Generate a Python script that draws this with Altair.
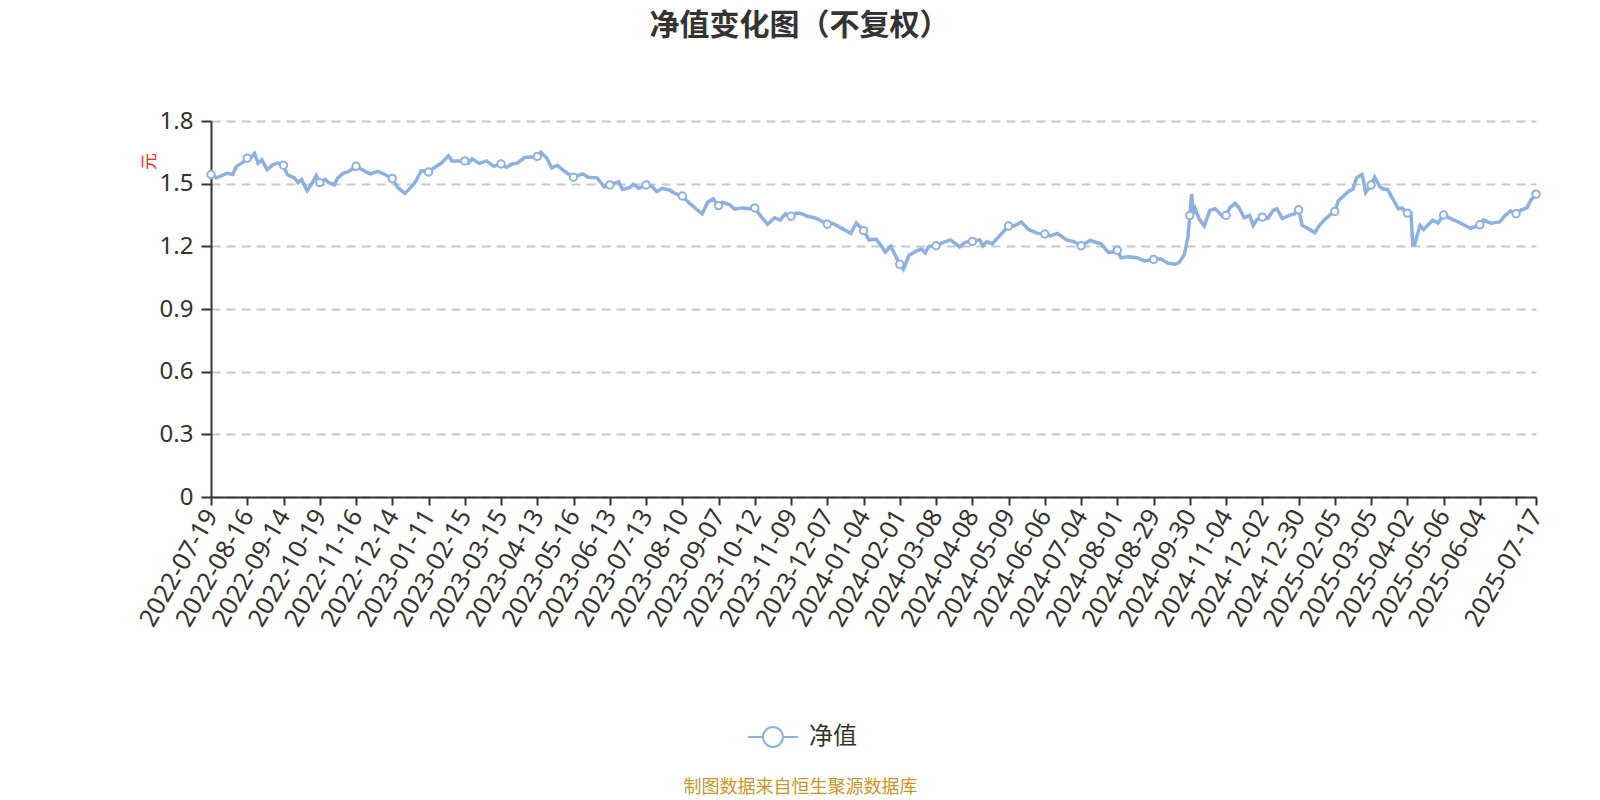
import json
import altair as alt
import pandas as pd

LINE_COLOR = "#8eb0df"

tick_dates = [
    "2022-07-19", "2022-08-16", "2022-09-14", "2022-10-19", "2022-11-16", "2022-12-14",
    "2023-01-11", "2023-02-15", "2023-03-15", "2023-04-13", "2023-05-16", "2023-06-13",
    "2023-07-13", "2023-08-10", "2023-09-07", "2023-10-12", "2023-11-09", "2023-12-07",
    "2024-01-04", "2024-02-01", "2024-03-08", "2024-04-08", "2024-05-09", "2024-06-06",
    "2024-07-04", "2024-08-01", "2024-08-29", "2024-09-30", "2024-11-04", "2024-12-02",
    "2024-12-30", "2025-02-05", "2025-03-05", "2025-04-02", "2025-05-06", "2025-06-04",
    "", "2025-07-17",
]
tick_idx = list(range(0, 721, 20)) + [731]

# trading-day index and unit NAV
day_idx = [
    0, 3, 9, 12, 14, 17, 20, 22, 24, 26, 28, 31, 34, 37, 40, 42, 46, 48, 50, 53,
    56, 58, 60, 63, 65, 68, 70, 73, 76, 80, 85, 88, 92, 96, 100, 103, 107, 111, 113, 116,
    120, 123, 127, 131, 133, 136, 140, 142, 144, 148, 152, 156, 160, 163, 166, 169, 173, 177, 180, 182,
    185, 188, 191, 195, 200, 205, 208, 213, 217, 220, 225, 227, 231, 233, 236, 240, 243, 246, 249, 253,
    256, 260, 264, 267, 271, 274, 277, 280, 282, 286, 289, 293, 297, 300, 303, 307, 311, 314, 317, 320,
    323, 326, 329, 333, 336, 340, 343, 348, 353, 356, 360, 363, 367, 370, 372, 375, 380, 382, 385, 389,
    392, 394, 396, 400, 404, 408, 413, 416, 420, 424, 426, 428, 431, 436, 440, 443, 447, 451, 456, 460,
    463, 467, 472, 476, 480, 485, 491, 495, 497, 500, 502, 506, 511, 515, 520, 524, 528, 532, 534, 537,
    539, 540, 541, 542, 543, 545, 548, 551, 554, 555, 558, 560, 562, 565, 567, 570, 573, 575, 577, 580,
    583, 586, 588, 591, 595, 598, 600, 602, 605, 609, 611, 614, 617, 620, 622, 625, 628, 630, 632, 635,
    636, 637, 640, 642, 645, 647, 649, 652, 655, 657, 660, 662, 663, 664, 667, 669, 674, 677, 680, 684,
    688, 691, 695, 700, 702, 706, 711, 714, 717, 720, 723, 726, 728, 731,
]
nav = [
    1.544, 1.528, 1.550, 1.544, 1.583, 1.598, 1.622, 1.625, 1.645, 1.598, 1.614, 1.567, 1.590, 1.598, 1.588, 1.544, 1.528, 1.505, 1.520, 1.466,
    1.505, 1.539, 1.505, 1.520, 1.505, 1.494, 1.528, 1.550, 1.559, 1.583, 1.559, 1.547, 1.559, 1.544, 1.525, 1.481, 1.453, 1.489, 1.512, 1.562,
    1.556, 1.575, 1.598, 1.634, 1.609, 1.609, 1.609, 1.598, 1.619, 1.597, 1.609, 1.583, 1.594, 1.578, 1.594, 1.598, 1.625, 1.628, 1.630, 1.650,
    1.625, 1.575, 1.588, 1.559, 1.531, 1.547, 1.531, 1.528, 1.484, 1.494, 1.509, 1.472, 1.481, 1.497, 1.478, 1.494, 1.489, 1.462, 1.478, 1.469,
    1.453, 1.441, 1.406, 1.384, 1.356, 1.411, 1.427, 1.395, 1.411, 1.400, 1.378, 1.384, 1.380, 1.384, 1.348, 1.306, 1.337, 1.325, 1.356, 1.344,
    1.359, 1.356, 1.344, 1.337, 1.325, 1.306, 1.310, 1.286, 1.262, 1.312, 1.275, 1.231, 1.234, 1.200, 1.172, 1.200, 1.114, 1.090, 1.156, 1.177,
    1.187, 1.169, 1.200, 1.203, 1.219, 1.231, 1.197, 1.219, 1.223, 1.231, 1.203, 1.223, 1.212, 1.259, 1.297, 1.297, 1.317, 1.281, 1.262, 1.259,
    1.250, 1.262, 1.231, 1.223, 1.203, 1.228, 1.212, 1.172, 1.172, 1.181, 1.145, 1.150, 1.145, 1.130, 1.137, 1.140, 1.119, 1.114, 1.122, 1.161,
    1.247, 1.348, 1.450, 1.356, 1.380, 1.333, 1.297, 1.372, 1.380, 1.372, 1.344, 1.348, 1.384, 1.406, 1.387, 1.337, 1.348, 1.300, 1.328, 1.340,
    1.333, 1.372, 1.380, 1.333, 1.348, 1.356, 1.375, 1.300, 1.286, 1.266, 1.294, 1.325, 1.348, 1.367, 1.419, 1.442, 1.466, 1.473, 1.528, 1.544,
    1.505, 1.458, 1.494, 1.531, 1.484, 1.473, 1.473, 1.427, 1.380, 1.384, 1.359, 1.359, 1.208, 1.208, 1.300, 1.281, 1.325, 1.312, 1.350, 1.333,
    1.317, 1.303, 1.286, 1.303, 1.326, 1.311, 1.317, 1.348, 1.370, 1.356, 1.375, 1.384, 1.419, 1.450,
]
y_ticks = [0, 0.3, 0.6, 0.9, 1.2, 1.5, 1.8]

series_name = "净值"
df = pd.DataFrame({"i": day_idx, "v": nav, "s": series_name})

label_expr = f"{json.dumps(tick_dates)}[indexof({json.dumps(tick_idx)}, datum.value)]"

x_enc = alt.X(
    "i:Q",
    scale=alt.Scale(domain=[0, 731], nice=False, zero=False),
    axis=alt.Axis(
        values=tick_idx,
        labelExpr=label_expr,
        labelAngle=-60,
        labelAlign="right",
        labelBaseline="middle",
        labelFont="Noto Sans",
        labelFontSize=25,
        labelColor="#333333",
        labelPadding=6,
        labelOverlap=False,
        labelBound=False,
        labelFlush=False,
        tickColor="#333333",
        tickSize=8,
        tickWidth=2,
        domainColor="#333333",
        domainWidth=2,
        grid=False,
        title="制图数据来自恒生聚源数据库",
        titleFont="Noto Sans CJK SC",
        titleFontSize=18,
        titleFontWeight="normal",
        titleColor="#c8952c",
        titleX=589,
        titleY=290,
        titleAlign="center",
        titleBaseline="middle",
    ),
)
y_enc = alt.Y(
    "v:Q",
    scale=alt.Scale(domain=[0, 1.8], nice=False, zero=True),
    axis=alt.Axis(
        values=y_ticks,
        labelExpr="datum.value == 0 ? '0' : format(datum.value, '.1f')",
        labelFont="Noto Sans",
        labelFontSize=24,
        labelColor="#333333",
        labelPadding=8,
        tickColor="#333333",
        tickSize=10,
        tickWidth=2,
        domainColor="#333333",
        domainWidth=2,
        grid=True,
        gridColor="#c8c8c8",
        gridDash=[9, 6],
        gridWidth=1.8,
        title="元",
        titleFont="Noto Sans CJK SC",
        titleFontSize=17,
        titleFontWeight="normal",
        titleColor="#ff2020",
        titleX=-62,
        titleY=40,
        titleAlign="center",
        titleBaseline="middle",
    ),
)

legend_path = (
    "M-1,0L-0.4,0M0.4,0L1,0"
    "M0.4,0A0.4,0.4,0,1,1,-0.4,0A0.4,0.4,0,1,1,0.4,0Z"
)

line = alt.Chart(df).mark_line(strokeWidth=3.5, interpolate="linear").encode(
    x=x_enc,
    y=y_enc,
    color=alt.Color(
        "s:N",
        scale=alt.Scale(domain=[series_name], range=[LINE_COLOR]),
        legend=alt.Legend(
            title=None,
            orient="none",
            legendX=536,
            legendY=590,
            symbolType=legend_path,
            symbolSize=2500,
            symbolStrokeWidth=2,
            symbolFillColor="white",
            symbolStrokeColor=LINE_COLOR,
            labelFont="Noto Sans CJK SC",
            labelFontSize=24,
            labelColor="#333333",
            labelOffset=10,
            padding=0,
        ),
    ),
)

points = alt.Chart(df).transform_filter(
    "datum.i % 20 == 0 || datum.i == 731"
).mark_point(
    shape="circle", filled=True, fill="white", stroke=LINE_COLOR,
    strokeWidth=2, size=55, opacity=1,
).encode(x=x_enc, y=y_enc)

chart = alt.layer(line, points).properties(
    width=1325,
    height=376,
    background="white",
    autosize=alt.AutoSizeParams(type="none"),
    padding={"left": 203, "top": 113, "right": 55, "bottom": 320},
    title=alt.TitleParams(
        "净值变化图（不复权）",
        font="Noto Sans CJK SC",
        fontSize=30,
        fontWeight="bold",
        color="#333333",
        anchor="middle",
        frame="group",
        dx=-74,
        offset=68,
    ),
).configure_view(stroke="transparent", strokeWidth=0)

chart.save("out.html", embed_options={"renderer": "svg", "actions": False})
